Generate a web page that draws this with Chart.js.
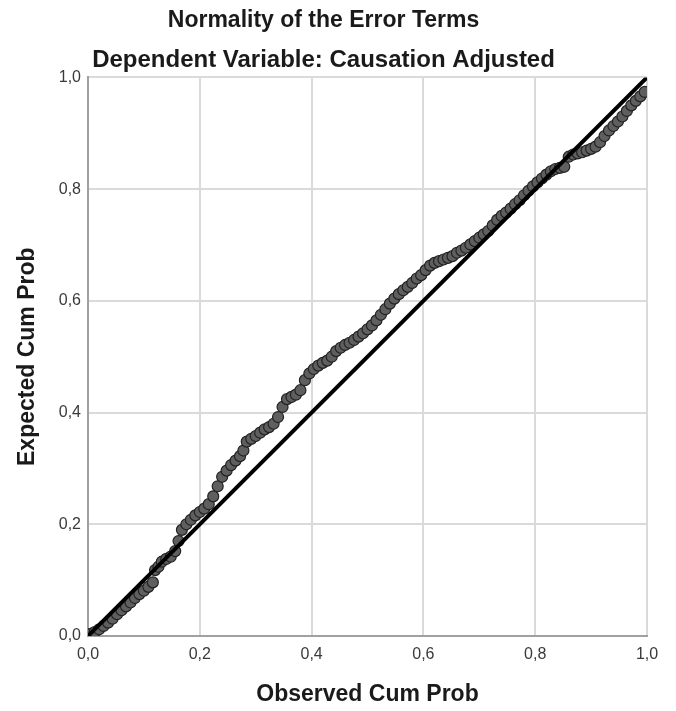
<!DOCTYPE html>
<html>
<head>
<meta charset="utf-8">
<script src="https://cdn.jsdelivr.net/npm/chart.js@4"></script>
<style>
  html, body { margin: 0; padding: 0; background: #fff; }
</style>
</head>
<body>
<canvas id="pp-chart" width="676" height="711"></canvas>
<script>
// P-P plot de los residuos (observado vs esperado)
var observedCumProb = [
  0.005, 0.012, 0.020, 0.028, 0.036, 0.044, 0.052, 0.060, 0.068, 0.076,
  0.084, 0.092, 0.100, 0.108, 0.116, 0.120, 0.126, 0.132, 0.140, 0.148,
  0.156, 0.162, 0.168, 0.176, 0.184, 0.192, 0.200, 0.208, 0.216, 0.224,
  0.232, 0.240, 0.248, 0.256, 0.264, 0.272, 0.278, 0.284, 0.292, 0.300,
  0.308, 0.316, 0.324, 0.332, 0.340, 0.348, 0.356, 0.364, 0.372, 0.380,
  0.388, 0.396, 0.404, 0.412, 0.420, 0.428, 0.436, 0.444, 0.452, 0.460,
  0.468, 0.476, 0.484, 0.492, 0.500, 0.508, 0.516, 0.524, 0.532, 0.540,
  0.548, 0.556, 0.564, 0.572, 0.580, 0.588, 0.596, 0.604, 0.612, 0.620,
  0.628, 0.636, 0.644, 0.652, 0.660, 0.668, 0.676, 0.684, 0.692, 0.700,
  0.708, 0.716, 0.724, 0.732, 0.740, 0.748, 0.756, 0.764, 0.772, 0.780,
  0.788, 0.796, 0.804, 0.812, 0.820, 0.828, 0.836, 0.844, 0.852, 0.860,
  0.868, 0.876, 0.884, 0.892, 0.900, 0.908, 0.916, 0.924, 0.932, 0.940,
  0.948, 0.956, 0.964, 0.972, 0.980, 0.988, 0.996
];
var expectedCumProb = [
  0.004, 0.007, 0.012, 0.018, 0.024, 0.031, 0.039, 0.046, 0.053, 0.060,
  0.068, 0.075, 0.081, 0.088, 0.096, 0.118, 0.124, 0.133, 0.138, 0.142,
  0.152, 0.170, 0.190, 0.200, 0.208, 0.216, 0.222, 0.228, 0.236, 0.250,
  0.268, 0.285, 0.296, 0.306, 0.314, 0.322, 0.332, 0.348, 0.353, 0.358,
  0.364, 0.370, 0.374, 0.380, 0.392, 0.410, 0.424, 0.428, 0.432, 0.440,
  0.458, 0.470, 0.478, 0.484, 0.489, 0.493, 0.500, 0.510, 0.516, 0.521,
  0.525, 0.530, 0.536, 0.542, 0.549, 0.556, 0.565, 0.575, 0.585, 0.595,
  0.604, 0.612, 0.619, 0.625, 0.632, 0.640, 0.646, 0.655, 0.663, 0.668,
  0.671, 0.674, 0.677, 0.680, 0.686, 0.690, 0.695, 0.701, 0.707, 0.713,
  0.719, 0.725, 0.735, 0.745, 0.752, 0.758, 0.765, 0.773, 0.780, 0.789,
  0.797, 0.805, 0.812, 0.819, 0.826, 0.832, 0.836, 0.838, 0.840, 0.858,
  0.862, 0.864, 0.866, 0.869, 0.872, 0.876, 0.884, 0.895, 0.905, 0.913,
  0.921, 0.930, 0.940, 0.950, 0.958, 0.966, 0.974
];
var refLineX = [0, 1];
var refLineY = [0, 1];
var tickLabels = ['0,0', '0,2', '0,4', '0,6', '0,8', '1,0'];

var puntos = [];
for (var i = 0; i < observedCumProb.length; i++) {
  puntos.push({x: observedCumProb[i], y: expectedCumProb[i]});
}
var linea = [];
for (var j = 0; j < refLineX.length; j++) {
  linea.push({x: refLineX[j], y: refLineY[j]});
}

Chart.defaults.font.family = '"Liberation Sans", Arial, sans-serif';

function etiqueta(value) {
  return tickLabels[Math.round(value / 0.2)];
}

var ctx = document.getElementById('pp-chart');
var ppChart = new Chart(ctx, {
  type: 'scatter',
  data: {
    datasets: [
      {
        type: 'line',
        label: 'Diagonal',
        data: linea,
        borderColor: '#000000',
        borderWidth: 4,
        pointRadius: 0,
        order: 0
      },
      {
        label: 'Residuos',
        data: puntos,
        backgroundColor: '#5f5f5f',
        borderColor: '#222222',
        borderWidth: 1.2,
        pointRadius: 5.5,
        order: 1
      }
    ]
  },
  options: {
    responsive: false,
    animation: false,
    layout: { padding: { left: 0, right: 29, top: 0, bottom: 0 } },
    plugins: {
      legend: { display: false },
      tooltip: { enabled: false },
      title: {
        display: true,
        text: 'Normality of the Error Terms',
        color: '#1a1a1a',
        font: { size: 23, weight: 'bold' },
        padding: { top: 7, bottom: 11 }
      },
      subtitle: {
        display: true,
        text: 'Dependent Variable: Causation Adjusted',
        color: '#1a1a1a',
        font: { size: 24, weight: 'bold' },
        padding: { top: 0, bottom: 3 }
      }
    },
    scales: {
      x: {
        type: 'linear',
        min: 0,
        max: 1,
        afterFit: function(scale) { scale.height = 75; },
        ticks: { stepSize: 0.2, callback: etiqueta, color: '#3a3a3a', font: { size: 16 }, padding: 9, maxRotation: 0 },
        grid: { color: '#dadada', lineWidth: 2, drawTicks: false },
        border: { color: '#a0a0a0', width: 2 },
        title: {
          display: true,
          text: 'Observed Cum Prob',
          color: '#1a1a1a',
          font: { size: 23, weight: 'bold' },
          padding: { top: 0, bottom: 3 }
        }
      },
      y: {
        type: 'linear',
        min: 0,
        max: 1,
        afterFit: function(scale) { scale.width = 88; },
        ticks: { stepSize: 0.2, callback: etiqueta, color: '#3a3a3a', font: { size: 16 }, padding: 7 },
        grid: { color: '#dadada', lineWidth: 2, drawTicks: false },
        border: { color: '#a0a0a0', width: 2 },
        title: {
          display: true,
          text: 'Expected Cum Prob',
          color: '#1a1a1a',
          font: { size: 23, weight: 'bold' },
          padding: { top: 14, bottom: 0 }
        }
      }
    }
  }
});
</script>
</body>
</html>
